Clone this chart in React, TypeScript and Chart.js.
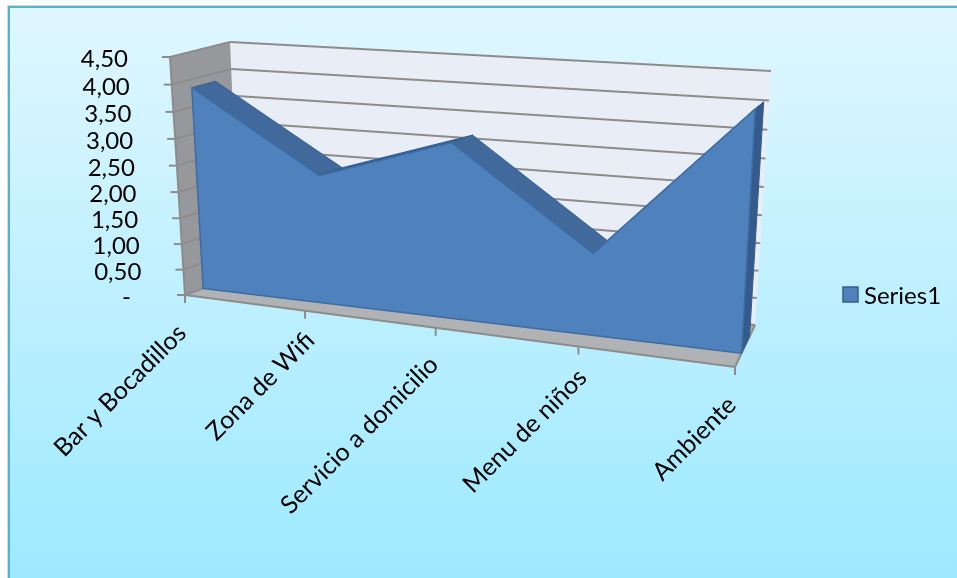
import React, { useEffect, useRef } from "react";
import { Chart, registerables } from "chart.js";

Chart.register(...registerables);

const categories = ["Bar y Bocadillos", "Zona de Wifi", "Servicio a domicilio", "Menu de niños", "Ambiente"];
const seriesName = "Series1";
const seriesValues = [3.85, 2.4, 3.17, 1.45, 4.05];

const FONT = 'Lato, "Noto Sans", sans-serif';

type Pt = [number, number];
// Corners of the 3D box on screen: top-left, top-right, bottom-right, bottom-left.
const FRONT: Pt[] = [[170, 57], [750, 84.4], [735, 367], [185, 295]];
const BACK: Pt[] = [[230, 42], [771, 71], [755, 325], [240, 275]];
const AREA_NEAR = 0.33;
const AREA_FAR = 0.73;
// Extra slide of each slanted category label along its own direction, in pixels.
const LABEL_SLIDE = [0, 12, 2, 10, 0];

const lerp = (a: Pt, b: Pt, t: number): Pt => [a[0] + (b[0] - a[0]) * t, a[1] + (b[1] - a[1]) * t];

// Perspective map of the unit square (u right, v up) onto the box slice at depth d.
function project(u: number, v: number, d: number): Pt {
  const tl = lerp(FRONT[0], BACK[0], d);
  const tr = lerp(FRONT[1], BACK[1], d);
  const br = lerp(FRONT[2], BACK[2], d);
  const bl = lerp(FRONT[3], BACK[3], d);
  const t = 1 - v;
  const dx1 = tr[0] - br[0];
  const dx2 = bl[0] - br[0];
  const dx3 = tl[0] - tr[0] + br[0] - bl[0];
  const dy1 = tr[1] - br[1];
  const dy2 = bl[1] - br[1];
  const dy3 = tl[1] - tr[1] + br[1] - bl[1];
  const den = dx1 * dy2 - dx2 * dy1;
  const g = (dx3 * dy2 - dx2 * dy3) / den;
  const h = (dx1 * dy3 - dx3 * dy1) / den;
  const a = tr[0] - tl[0] + g * tr[0];
  const b = bl[0] - tl[0] + h * bl[0];
  const e = tr[1] - tl[1] + g * tr[1];
  const f = bl[1] - tl[1] + h * bl[1];
  const w = g * u + h * t + 1;
  return [(a * u + b * t + tl[0]) / w, (e * u + f * t + tl[1]) / w];
}

function polygon(ctx: CanvasRenderingContext2D, pts: Pt[], fill: string, stroke?: string, width = 1) {
  ctx.beginPath();
  pts.forEach((p, i) => (i ? ctx.lineTo(p[0], p[1]) : ctx.moveTo(p[0], p[1])));
  ctx.closePath();
  ctx.fillStyle = fill;
  ctx.fill();
  if (stroke) {
    ctx.strokeStyle = stroke;
    ctx.lineWidth = width;
    ctx.lineJoin = "round";
    ctx.stroke();
  }
}

function segment(ctx: CanvasRenderingContext2D, a: Pt, b: Pt, color: string, width: number) {
  ctx.beginPath();
  ctx.moveTo(a[0], a[1]);
  ctx.lineTo(b[0], b[1]);
  ctx.strokeStyle = color;
  ctx.lineWidth = width;
  ctx.stroke();
}

// Scale pixels to unit-square coordinates.
function toUnit(chart: any, x: number, y: number): [number, number] {
  const { left, right, top, bottom } = chart.chartArea;
  return [(x - left) / (right - left), (bottom - y) / (bottom - top)];
}

const panelPlugin = {
  id: "panel",
  beforeDraw(chart: any) {
    const ctx: CanvasRenderingContext2D = chart.ctx;
    ctx.save();
    ctx.fillStyle = "#ffffff";
    ctx.fillRect(0, 0, chart.width, chart.height);
    ctx.fillStyle = "#d9d9d9";
    ctx.fillRect(7, 5, chart.width, chart.height);
    const g = ctx.createLinearGradient(0, 6, 0, 578);
    g.addColorStop(0, "#e0f7ff");
    g.addColorStop(1, "#9de9ff");
    ctx.fillStyle = g;
    ctx.fillRect(9, 7, chart.width, chart.height);
    ctx.strokeStyle = "#4fb4d0";
    ctx.lineWidth = 2;
    ctx.strokeRect(9, 7, chart.width + 10, chart.height + 10);
    ctx.restore();
  },
};

const box3dPlugin = {
  id: "box3d",
  beforeDatasetsDraw(chart: any) {
    const ctx: CanvasRenderingContext2D = chart.ctx;
    const xScale = chart.scales.x;
    const yScale = chart.scales.y;
    ctx.save();

    // Walls and floor
    polygon(ctx, [project(0, 1, 1), project(1, 1, 1), project(1, 0, 1), project(0, 0, 1)], "#e9edf6");
    polygon(ctx, [project(0, 1, 0), project(0, 1, 1), project(0, 0, 1), project(0, 0, 0)], "#97989b");
    polygon(ctx, [project(0, 0, 0), project(0, 0, 1), project(1, 0, 1), project(1, 0, 0)], "#b1b2b6");

    // Value gridlines, stubs and labels
    ctx.font = `24px ${FONT}`;
    ctx.textAlign = "right";
    ctx.textBaseline = "middle";
    yScale.ticks.forEach((tick: any) => {
      const [, v] = toUnit(chart, xScale.left, yScale.getPixelForValue(tick.value));
      const front = project(0, v, 0);
      segment(ctx, project(0, v, 1), project(1, v, 1), "#8e8c8b", 2);
      segment(ctx, front, project(0, v, 1), "#8e8c8b", 2);
      segment(ctx, front, [front[0] - 8, front[1]], "#8e8c8b", 2);
      ctx.fillStyle = "#000000";
      const pad = tick.value === 0 ? 54 : 42;
      ctx.fillText(tick.label, front[0] - pad, front[1] + 2.5);
    });
    segment(ctx, project(0, 1, 0), project(0, 0, 0), "#8e8c8b", 2);
    segment(ctx, project(0, 0, 0), project(1, 0, 0), "#8e8c8b", 2);
    segment(ctx, project(1, 0, 0), project(1, 0, 1), "#8e8c8b", 2);

    // Category ticks and slanted labels along the front floor edge
    ctx.font = `25px ${FONT}`;
    xScale.ticks.forEach((tick: any, i: number) => {
      const [u] = toUnit(chart, xScale.getPixelForTick(i), yScale.bottom);
      const p = project(u, 0, 0);
      segment(ctx, p, [p[0], p[1] + 8], "#8e8c8b", 2);
      ctx.save();
      ctx.translate(p[0] - 3, p[1] + 34);
      ctx.rotate(-Math.PI / 4);
      ctx.textAlign = "right";
      ctx.textBaseline = "middle";
      ctx.fillStyle = "#000000";
      ctx.fillText(tick.label, LABEL_SLIDE[i], 0);
      ctx.restore();
    });
    ctx.restore();
  },
  // The series is rendered as an extruded area through the same projection.
  beforeDatasetDraw(chart: any, args: any) {
    const ctx: CanvasRenderingContext2D = chart.ctx;
    const meta = args.meta;
    const yBase = chart.scales.y.getPixelForValue(0);
    const units = meta.data.map((el: any) => toUnit(chart, el.x, el.y));
    const near: Pt[] = units.map(([u, v]: number[]) => project(u, v, AREA_NEAR));
    const far: Pt[] = units.map(([u, v]: number[]) => project(u, v, AREA_FAR));
    const vBase = toUnit(chart, meta.data[0].x, yBase)[1];
    const last = units.length - 1;

    ctx.save();
    for (let i = 0; i < last; i++) {
      const rising = units[i + 1][1] > units[i][1];
      polygon(ctx, [near[i], near[i + 1], far[i + 1], far[i]], rising ? "#2f5c90" : "#41699c", rising ? "#2f5c90" : "#385f92", 1);
    }
    polygon(
      ctx,
      [near[last], project(units[last][0], vBase, AREA_NEAR), project(units[last][0], vBase, AREA_FAR), far[last]],
      "#345b8c",
      "#345b8c",
      1
    );
    const face: Pt[] = [project(units[0][0], vBase, AREA_NEAR), ...near, project(units[last][0], vBase, AREA_NEAR)];
    polygon(ctx, face, chart.data.datasets[args.index].backgroundColor, "#3c6ca4", 1.5);
    ctx.restore();
    return false;
  },
  // Legend entry with a tight gap between swatch and name.
  afterDraw(chart: any) {
    const ctx: CanvasRenderingContext2D = chart.ctx;
    const ds = chart.data.datasets[0];
    ctx.save();
    ctx.fillStyle = ds.backgroundColor;
    ctx.strokeStyle = ds.borderColor;
    ctx.lineWidth = 1.5;
    ctx.fillRect(843, 287, 15, 15);
    ctx.strokeRect(843, 287, 15, 15);
    ctx.font = `24px ${FONT}`;
    ctx.fillStyle = "#000000";
    ctx.textAlign = "left";
    ctx.textBaseline = "middle";
    ctx.fillText(ds.label, 864, 296);
    ctx.restore();
  },
};

export default function App() {
  const ref = useRef<HTMLCanvasElement | null>(null);

  useEffect(() => {
    if (!ref.current) return;
    const chart = new Chart(ref.current, {
      type: "line",
      data: {
        labels: categories,
        datasets: [
          {
            label: seriesName,
            data: seriesValues,
            backgroundColor: "#4f81bd",
            borderColor: "#385d8a",
            borderWidth: 2,
            pointRadius: 0,
          },
        ],
      },
      options: {
        responsive: false,
        animation: false,
        scales: {
          x: { type: "category", display: false, offset: false },
          y: {
            type: "linear",
            display: false,
            min: 0,
            max: 4.5,
            ticks: {
              stepSize: 0.5,
              callback: (value: any) => (Number(value) === 0 ? "-" : Number(value).toFixed(2).replace(".", ",")),
            },
          },
        },
        plugins: {
          title: { display: false },
          tooltip: { enabled: false },
          legend: { display: false },
        },
      },
      plugins: [panelPlugin, box3dPlugin],
    } as any);
    return () => chart.destroy();
  }, []);

  return (
    <div style={{ position: "fixed", left: 0, top: 0, width: 957, height: 578, overflow: "hidden" }}>
      <canvas ref={ref} width={957} height={578} style={{ display: "block" }} />
    </div>
  );
}
